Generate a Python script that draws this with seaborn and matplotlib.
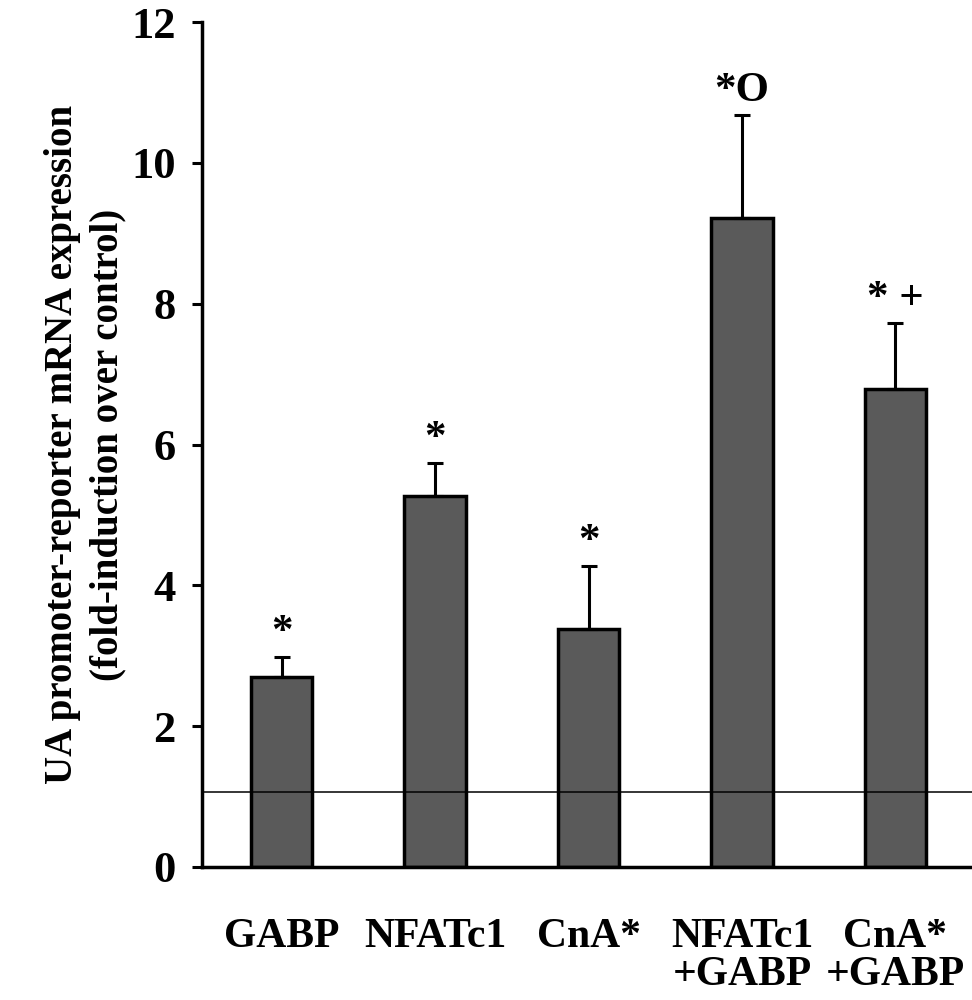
import matplotlib
matplotlib.use("Agg")
import matplotlib.pyplot as plt
import seaborn as sns
import numpy as np
import pandas as pd

categories = ["GABP", "NFATc1", "CnA*", "NFATc1\n+GABP", "CnA*\n+GABP"]
values = [2.70, 5.27, 3.38, 9.22, 6.79]
err_upper = [0.28, 0.47, 0.90, 1.46, 0.94]
marks = ["*", "*", "*", "*O", "* +"]
control_level = 1.06
yticks = [0, 2, 4, 6, 8, 10, 12]
ylabel = "UA promoter-reporter mRNA expression\n(fold-induction over control)"

sns.set_theme(style="white")
plt.rcParams["font.family"] = ["Liberation Serif", "DejaVu Serif"]
plt.rcParams["font.weight"] = "bold"
plt.rcParams["text.color"] = "black"
plt.rcParams["axes.labelcolor"] = "black"
plt.rcParams["xtick.color"] = "black"
plt.rcParams["ytick.color"] = "black"

fig = plt.figure(figsize=(9.72, 10.0), dpi=100)
ax = fig.add_axes([0.2078, 0.133, 0.7922, 0.845])

df = pd.DataFrame({"cat": categories, "val": values})
sns.barplot(data=df, x="cat", y="val", color="#5a5a5a", saturation=1,
            edgecolor="black", linewidth=2.5, width=0.40, errorbar=None, ax=ax)
xs = np.arange(len(categories))
ax.errorbar(xs, values, yerr=[np.zeros(len(values)), err_upper], fmt="none",
            ecolor="black", elinewidth=2.2, capsize=6, capthick=2.2, zorder=3)
ax.axhline(control_level, color="black", lw=1.1, zorder=4)

for x, v, e, m in zip(xs, values, err_upper, marks):
    ax.text(x, v + e + 0.07, m, ha="center", va="bottom", fontsize=31,
            fontweight="bold", color="black")

ax.set_xlim(-0.52, 4.5)
ax.set_ylim(0, 12)
ax.set_yticks(yticks)
ax.set_yticklabels([str(t) for t in yticks], fontsize=32, fontweight="bold", color="black")
ax.set_xticks(xs)
ax.set_xticklabels(categories, fontsize=30, fontweight="bold", linespacing=1.0,
                   va="top", color="black")
ax.tick_params(axis="x", length=0, pad=37)
ax.tick_params(axis="y", direction="out", length=7, width=2.2, pad=12, left=True, color="black")
ax.set_xlabel("")
ax.set_ylabel(ylabel, fontsize=28, fontweight="bold", labelpad=3, linespacing=1.3,
              color="black")
for s in ["top", "right"]:
    ax.spines[s].set_visible(False)
ax.spines["left"].set_linewidth(2.5)
ax.spines["bottom"].set_linewidth(2.5)
ax.spines["left"].set_color("black")
ax.spines["bottom"].set_color("black")

fig.savefig("out.png", dpi=100, facecolor="white")
